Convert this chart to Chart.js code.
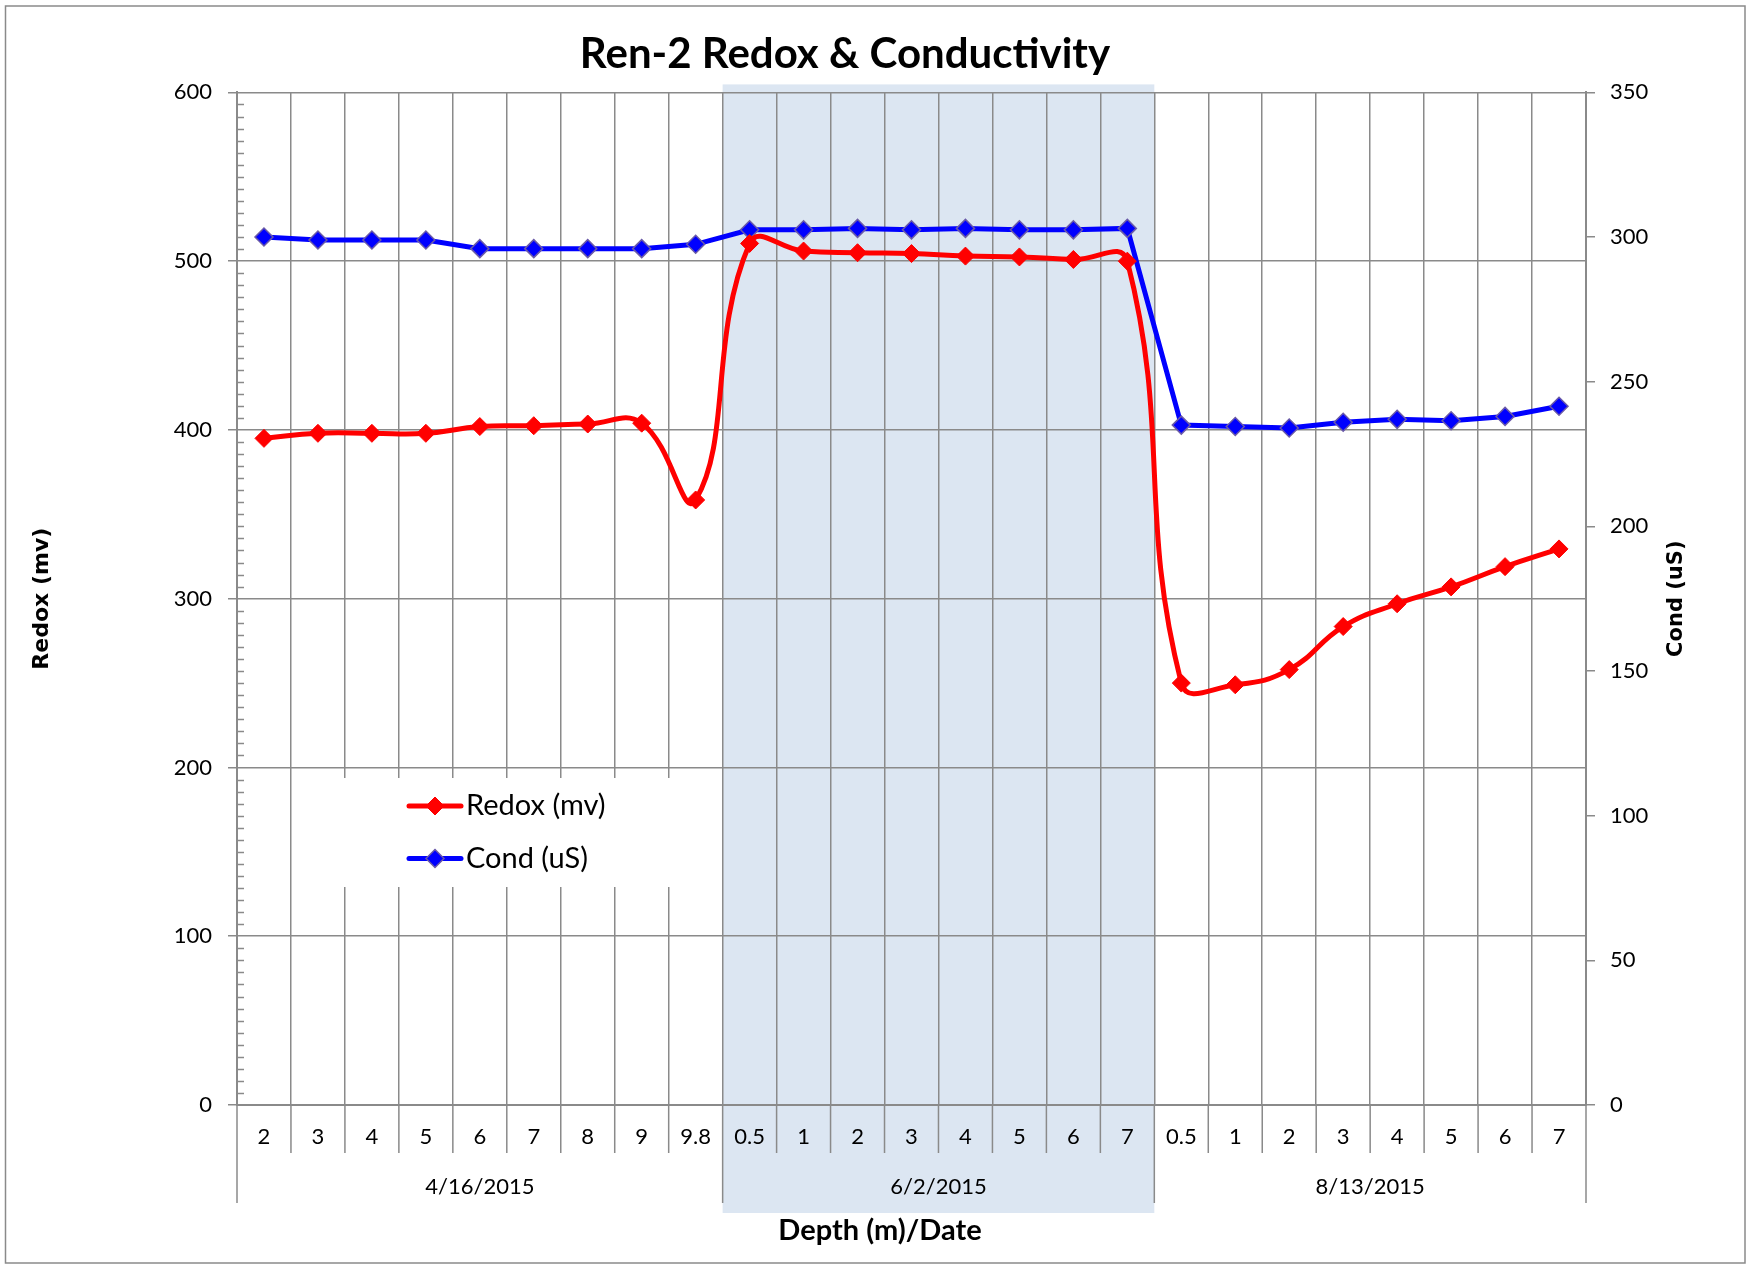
<!DOCTYPE html>
<html>
<head>
<meta charset="utf-8">
<title>Ren-2 Redox &amp; Conductivity</title>
<script src="https://cdn.jsdelivr.net/npm/chart.js@4.4.1/dist/chart.umd.min.js"></script>
<style>
    html, body { margin: 0; padding: 0; background: #ffffff; }
    #wrap { width: 1748px; height: 1265px; }
</style>
</head>
<body>
<div id="wrap"><canvas id="redoxChart" width="1748" height="1265"></canvas></div>
<script>
// ===== Data =====
const depthLabels = ['2', '3', '4', '5', '6', '7', '8', '9', '9.8',
                     '0.5', '1', '2', '3', '4', '5', '6', '7',
                     '0.5', '1', '2', '3', '4', '5', '6', '7'];
const dateGroups = ['4/16/2015', '6/2/2015', '8/13/2015'];
const groupSizes = [9, 8, 8];
const shadedGroup = 1;   // 6/2/2015 block is highlighted

const redoxValues = [395, 398, 398, 398, 402, 402.5, 403.5, 404, 358.5,
                     510.5, 506, 505, 504.5, 503, 502.5, 501, 500,
                     250, 249, 258, 283.5, 297, 307, 319, 329.5];
const condValues = [300, 299, 299, 299, 296, 296, 296, 296, 297.5,
                    302.5, 302.5, 303, 302.5, 303, 302.5, 302.5, 303,
                    235, 234.5, 234, 236, 237, 236.5, 238, 241.5];

const redoxTicks = [0, 100, 200, 300, 400, 500, 600];
const condTicks = [0, 50, 100, 150, 200, 250, 300, 350];

const chartTitle = 'Ren-2 Redox & Conductivity';
const xTitle = 'Depth (m)/Date';
const redoxTitle = 'Redox (mv)';
const condTitle = 'Cond (uS)';

// ===== Colors =====
const colors = {
    redox: '#FF0000',
    cond: '#0000FF',
    condMarkerEdge: '#6A5AA8',
    grid: '#8A8A8A',
    shade: '#DCE6F2',
    text: '#000000'
};

const sideTitleFont = 'bold 21px "DejaVu Sans"';

// ===== Extra Excel-style drawing =====
const excelExtras = {
    id: 'excelExtras',
    beforeDraw(chart) {
        const { ctx, chartArea } = chart;
        const xs = chart.scales.x;
        ctx.save();
        ctx.fillStyle = '#ffffff';
        ctx.fillRect(0, 0, chart.width, chart.height);

        // highlighted date block
        let first = 0;
        for (let g = 0; g < shadedGroup; g++) first += groupSizes[g];
        const x0 = xs.getPixelForValue(first - 0.5);
        const x1 = xs.getPixelForValue(first + groupSizes[shadedGroup] - 0.5);
        ctx.fillStyle = colors.shade;
        ctx.fillRect(x0, chartArea.top - 8, x1 - x0, chartArea.bottom - chartArea.top + 116);
        ctx.restore();
    },
    afterDraw(chart) {
        const { ctx, chartArea } = chart;
        const xs = chart.scales.x;
        const ys = chart.scales.y;
        ctx.save();

        // minor ticks on the left axis
        ctx.strokeStyle = colors.grid;
        ctx.lineWidth = 1.5;
        ctx.beginPath();
        const minorPerMajor = 14;
        const maxV = redoxTicks[redoxTicks.length - 1];
        const step = (redoxTicks[1] - redoxTicks[0]) / minorPerMajor;
        for (let k = 1; k * step < maxV; k++) {
            if (k % minorPerMajor === 0) continue;
            const py = Math.round(ys.getPixelForValue(k * step)) + 0.5;
            ctx.moveTo(chartArea.left, py);
            ctx.lineTo(chartArea.left + 7, py);
        }
        ctx.stroke();

        // category and date dividers below the axis
        const edges = [0];
        groupSizes.forEach(n => edges.push(edges[edges.length - 1] + n));
        ctx.beginPath();
        for (let i = 0; i <= depthLabels.length; i++) {
            const px = xs.getPixelForValue(i - 0.5);
            const len = edges.includes(i) ? 98 : 48;
            ctx.moveTo(px, chartArea.bottom);
            ctx.lineTo(px, chartArea.bottom + len);
        }
        ctx.stroke();

        // date labels
        ctx.fillStyle = colors.text;
        ctx.font = '22px Lato';
        ctx.textAlign = 'center';
        ctx.textBaseline = 'middle';
        dateGroups.forEach((label, g) => {
            const mid = (edges[g] + edges[g + 1]) / 2 - 0.5;
            ctx.fillText(label, xs.getPixelForValue(mid), chartArea.bottom + 82);
        });

        // x axis title (sits left of the plot centre in the original)
        ctx.font = 'bold 29px Lato';
        ctx.fillText(xTitle, 880, chartArea.bottom + 126);

        // right axis title (reads bottom to top)
        ctx.save();
        ctx.translate(1677, (chartArea.top + chartArea.bottom) / 2);
        ctx.rotate(-Math.PI / 2);
        ctx.font = sideTitleFont;
        ctx.fillText(condTitle, 0, 0);
        ctx.restore();

        // legend inside the plot
        const boxLeft = 318, boxTop = 778;
        ctx.fillStyle = '#ffffff';
        ctx.fillRect(boxLeft, boxTop, 377, 109);
        chart.data.datasets.forEach((ds, i) => {
            const cy = boxTop + 28 + i * 52.5;
            const lx = boxLeft + 91;
            ctx.strokeStyle = ds.borderColor;
            ctx.lineWidth = 5;
            ctx.lineCap = 'round';
            ctx.beginPath();
            ctx.moveTo(lx, cy);
            ctx.lineTo(lx + 52, cy);
            ctx.stroke();
            ctx.lineCap = 'butt';
            ctx.beginPath();
            ctx.moveTo(lx + 26 - 9, cy);
            ctx.lineTo(lx + 26, cy - 9);
            ctx.lineTo(lx + 26 + 9, cy);
            ctx.lineTo(lx + 26, cy + 9);
            ctx.closePath();
            ctx.fillStyle = ds.pointBackgroundColor;
            ctx.fill();
            ctx.strokeStyle = ds.pointBorderColor;
            ctx.lineWidth = ds.pointBorderWidth;
            ctx.stroke();
            ctx.fillStyle = colors.text;
            ctx.font = '29px Lato';
            ctx.textAlign = 'left';
            ctx.fillText(ds.label, lx + 57, cy);
        });

        // outer chart border
        ctx.strokeStyle = colors.grid;
        ctx.lineWidth = 1.5;
        ctx.strokeRect(5.5, 6, 1739.5, 1257);
        ctx.restore();
    }
};

// ===== Chart =====
function initRedoxChart() {
    const ctx = document.getElementById('redoxChart');
    if (!ctx) return;

    Chart.defaults.font.family = 'Lato';
    Chart.defaults.color = colors.text;

    new Chart(ctx, {
        type: 'line',
        data: {
            labels: depthLabels,
            datasets: [
                {
                    label: redoxTitle,
                    data: redoxValues,
                    yAxisID: 'y',
                    borderColor: colors.redox,
                    borderWidth: 5,
                    tension: 0.45,
                    fill: false,
                    pointStyle: 'rectRot',
                    pointRadius: 9,
                    pointBackgroundColor: colors.redox,
                    pointBorderColor: colors.redox,
                    pointBorderWidth: 1
                },
                {
                    label: condTitle,
                    data: condValues,
                    yAxisID: 'y1',
                    borderColor: colors.cond,
                    borderWidth: 5,
                    tension: 0,
                    fill: false,
                    pointStyle: 'rectRot',
                    pointRadius: 9,
                    pointBackgroundColor: colors.cond,
                    pointBorderColor: colors.condMarkerEdge,
                    pointBorderWidth: 1.5
                }
            ]
        },
        options: {
            responsive: false,
            animation: false,
            devicePixelRatio: 1,
            layout: { padding: { left: 0, right: 58, top: 0, bottom: 0 } },
            plugins: {
                legend: { display: false },
                tooltip: { enabled: false },
                title: {
                    display: true,
                    text: chartTitle,
                    color: colors.text,
                    font: { family: 'Lato', size: 42, weight: 'bold', lineHeight: 1.2 },
                    padding: { top: 29, bottom: 13 }
                }
            },
            scales: {
                x: {
                    offset: true,
                    afterFit: (scale) => { scale.height = 160; },
                    grid: { offset: true, color: colors.grid, lineWidth: 1.5, drawTicks: false },
                    border: { color: colors.grid, width: 2 },
                    ticks: {
                        autoSkip: false,
                        maxRotation: 0,
                        padding: 19,
                        color: colors.text,
                        font: { size: 22 }
                    }
                },
                y: {
                    position: 'left',
                    min: redoxTicks[0],
                    max: redoxTicks[redoxTicks.length - 1],
                    afterFit: (scale) => { scale.width = 237; },
                    grid: { color: colors.grid, lineWidth: 1.5, tickLength: 9 },
                    border: { color: colors.grid, width: 2 },
                    ticks: {
                        stepSize: redoxTicks[1] - redoxTicks[0],
                        padding: 16,
                        color: colors.text,
                        font: { size: 22 }
                    },
                    title: {
                        display: true,
                        text: redoxTitle,
                        color: colors.text,
                        font: { family: 'DejaVu Sans', size: 22, weight: 'bold', lineHeight: 1.2 },
                        padding: { top: 29, bottom: 0 }
                    }
                },
                y1: {
                    position: 'right',
                    min: condTicks[0],
                    max: condTicks[condTicks.length - 1],
                    afterFit: (scale) => { scale.width = 104; },
                    grid: { drawOnChartArea: false, color: colors.grid, lineWidth: 1.5, tickLength: 9 },
                    border: { color: colors.grid, width: 2 },
                    ticks: {
                        stepSize: condTicks[1] - condTicks[0],
                        padding: 15,
                        color: colors.text,
                        font: { size: 22 }
                    }
                }
            }
        },
        plugins: [excelExtras]
    });
}

document.addEventListener('DOMContentLoaded', initRedoxChart);
</script>
</body>
</html>
